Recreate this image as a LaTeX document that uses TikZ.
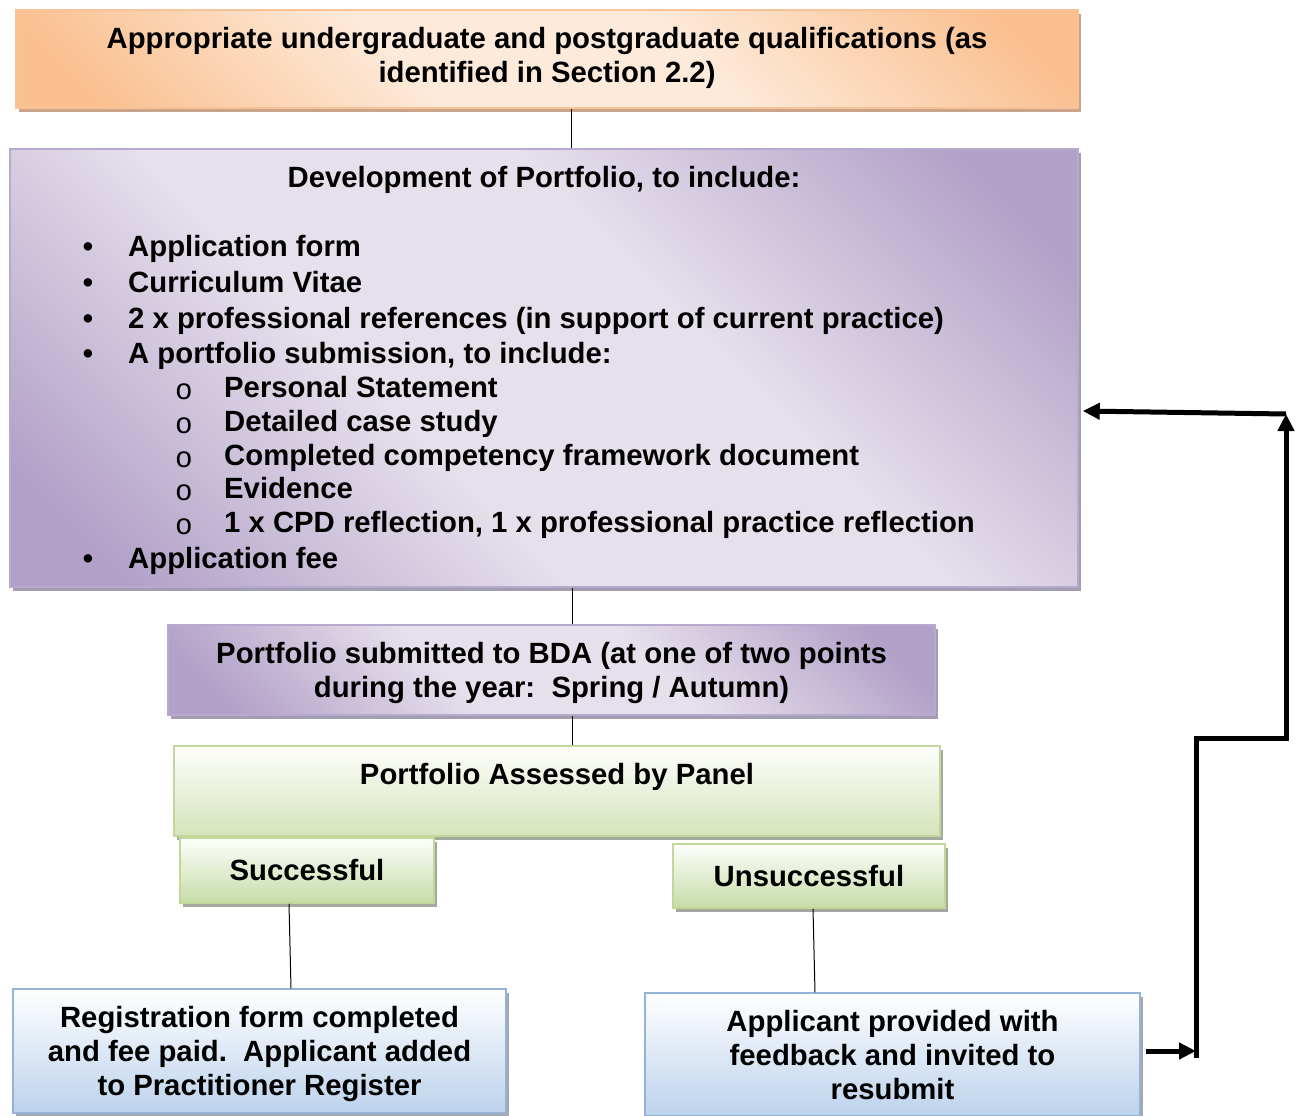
\documentclass[tikz,border=0pt]{standalone}
\usepackage{fontspec}
\setmainfont{Liberation Sans}
\newfontfamily\monofam{Liberation Mono}
\usetikzlibrary{shadows,arrows.meta,calc}
\definecolor{orD}{HTML}{FAC090}
\definecolor{orL}{HTML}{FDEADA}
\definecolor{orB}{HTML}{F9C39A}
\definecolor{orS}{HTML}{C9A488}
\definecolor{puD}{HTML}{B1A0C7}
\definecolor{puL}{HTML}{E6E0EC}
\definecolor{puB}{HTML}{B8A9CF}
\definecolor{puS}{HTML}{A49CB0}
\definecolor{grL}{HTML}{FDFEFB}
\definecolor{grD}{HTML}{D5E3BA}
\definecolor{grD2}{HTML}{C6DCA8}
\definecolor{grB}{HTML}{C3D69B}
\definecolor{grS}{HTML}{A3A99C}
\definecolor{blL}{HTML}{FFFFFF}
\definecolor{blD}{HTML}{BCD2EC}
\definecolor{blB}{HTML}{95B3D7}
\definecolor{blS}{HTML}{A4A8AE}
\pgfdeclareverticalshading{diagP}{100bp}{color(0bp)=(puD); color(20bp)=(puD); color(41bp)=(puL); color(59bp)=(puL); color(80bp)=(puD); color(100bp)=(puD)}
\pgfdeclareverticalshading{diagO}{100bp}{color(0bp)=(orD); color(20bp)=(orD); color(41bp)=(orL); color(59bp)=(orL); color(80bp)=(orD); color(100bp)=(orD)}
\tikzset{
  basebox/.style={inner sep=0pt, align=center, line width=1.5pt,
    font=\bfseries\fontsize{29.3}{34}\selectfont},
  obox/.style={basebox, draw=orB, shade, shading=diagO, shading angle=-45,
    drop shadow={shadow xshift=3pt, shadow yshift=-4pt, fill=orS, opacity=1}},
  pbox/.style={basebox, draw=puB, shade, shading=diagP, shading angle=-45,
    drop shadow={shadow xshift=3pt, shadow yshift=-4pt, fill=puS, opacity=1}},
  gbox/.style={basebox, draw=grB, top color=grL, bottom color=grD,
    drop shadow={shadow xshift=3pt, shadow yshift=-4pt, fill=grS, opacity=1}},
  sbox/.style={basebox, draw=grB, top color=grL, bottom color=grD2,
    drop shadow={shadow xshift=3pt, shadow yshift=-4pt, fill=grS, opacity=1}},
  bbox/.style={basebox, draw=blB, top color=blL, bottom color=blD,
    drop shadow={shadow xshift=3pt, shadow yshift=-4pt, fill=blS, opacity=1}},
  txt/.style={inner sep=0pt, font=\bfseries\fontsize{29.3}{34}\selectfont},
  bul/.style={inner sep=0pt, anchor=base, font=\bfseries\fontsize{29.3}{34}\selectfont},
  subbul/.style={inner sep=0pt, anchor=base, font=\monofam\fontsize{29.3}{34}\selectfont},
  item/.style={txt, anchor=base west},
  conn/.style={line width=1pt, black},
  fat/.style={line width=5pt, black},
  fatarrow/.style={fat, -{Triangle[length=17pt,width=16pt]}}
}
\begin{document}
\begin{tikzpicture}[x=1pt,y=-1pt]
\useasboundingbox[fill=white] (0,0) rectangle (1296,1116);

\node[obox, minimum width=1062pt, minimum height=98pt, text depth=9pt] (qual) at (547,59)
  {Appropriate undergraduate and postgraduate qualifications (as\\identified in Section 2.2)};

\node[pbox, minimum width=1068pt, minimum height=438pt] (dev) at (544,368) {};
\node[txt, anchor=base] (devt) at (544,187) {Development of Portfolio, to include:};
\node[bul] (b1) at (88,256) {•};
\node[item] (i1) at (128,256) {Application form};
\node[bul] (b2) at (88,292) {•};
\node[item] (i2) at (128,292) {Curriculum Vitae};
\node[bul] (b3) at (88,328) {•};
\node[item] (i3) at (128,328) {2 x professional references (in support of current practice)};
\node[bul] (b4) at (88,363) {•};
\node[item] (i4) at (128,363) {A portfolio submission, to include:};
\node[subbul] (s1) at (184,399) {o};
\node[item] (j1) at (224,397) {Personal Statement};
\node[subbul] (s2) at (184,433) {o};
\node[item] (j2) at (224,431) {Detailed case study};
\node[subbul] (s3) at (184,467) {o};
\node[item] (j3) at (224,465) {Completed competency framework document};
\node[subbul] (s4) at (184,500) {o};
\node[item] (j4) at (224,498) {Evidence};
\node[subbul] (s5) at (184,534) {o};
\node[item] (j5) at (224,532) {1 x CPD reflection, 1 x professional practice reflection};
\node[bul] (b5) at (88,568) {•};
\node[item] (i5) at (128,568) {Application fee};

\node[pbox, minimum width=767pt, minimum height=90pt] (sub) at (551.5,670) {};
\node[txt, align=center, anchor=base] (subt) at (551.5,663)
  {Portfolio submitted to BDA (at one of two points};
\node[txt, align=center, anchor=base] (subt2) at (551.5,697)
  {during the year:\ \ Spring / Autumn)};

\node[gbox, minimum width=766pt, minimum height=90pt] (ass) at (557,791) {};
\node[txt, anchor=base] (asst) at (557,784) {Portfolio Assessed by Panel};

\node[sbox, minimum width=254pt, minimum height=65pt] (succ) at (307,870.5) {Successful};
\node[sbox, minimum width=272pt, minimum height=64pt] (unsucc) at (809,876) {Unsuccessful};

\node[bbox, minimum width=493pt, minimum height=124pt] (reg) at (259.5,1051) {};
\node[txt, align=center, anchor=base] (regt1) at (259.5,1027) {Registration form completed};
\node[txt, align=center, anchor=base] (regt2) at (259.5,1061) {and fee paid.\ \ Applicant added};
\node[txt, align=center, anchor=base] (regt3) at (259.5,1095) {to Practitioner Register};
\node[bbox, minimum width=495pt, minimum height=123pt] (fb) at (892.5,1054.5) {};
\node[txt, align=center, anchor=base] (fbt1) at (892.5,1031) {Applicant provided with};
\node[txt, align=center, anchor=base] (fbt2) at (892.5,1065) {feedback and invited to};
\node[txt, align=center, anchor=base] (fbt3) at (892.5,1099) {resubmit};

% thin connectors
\draw[conn] ([xshift=24pt]qual.south) -- ([xshift=24pt]qual.south |- dev.north);
\draw[conn] ([xshift=28pt]dev.south) -- ([xshift=28pt]dev.south |- sub.north);
\draw[conn] ([xshift=20.5pt]sub.south) -- ([xshift=20.5pt]sub.south |- ass.north);
\draw[conn] ([xshift=-18pt]succ.south) -- ([xshift=31.5pt]reg.north);
\draw[conn] ([xshift=4pt]unsucc.south) -- ([xshift=-77.5pt]fb.north);

% feedback loop
\coordinate (fbout) at ([xshift=5pt,yshift=3.5pt]fb.east);
\coordinate (jn) at (1196,1051);
\coordinate (jlow) at (1196,1058);
\coordinate (bendA) at (1196,738);
\coordinate (bendB) at (1286,738);
\coordinate (rtop) at (1286,414);
\path (dev.east |- 0,411) coordinate (devside);
\coordinate (devin) at ([xshift=4pt]devside);
\draw[fatarrow] (fbout) -- (jn);
\draw[fatarrow, line join=miter] (jlow) -- (bendA) -- (bendB) -- (rtop);
\draw[fatarrow] (rtop) -- (devin);
\end{tikzpicture}
\end{document}
